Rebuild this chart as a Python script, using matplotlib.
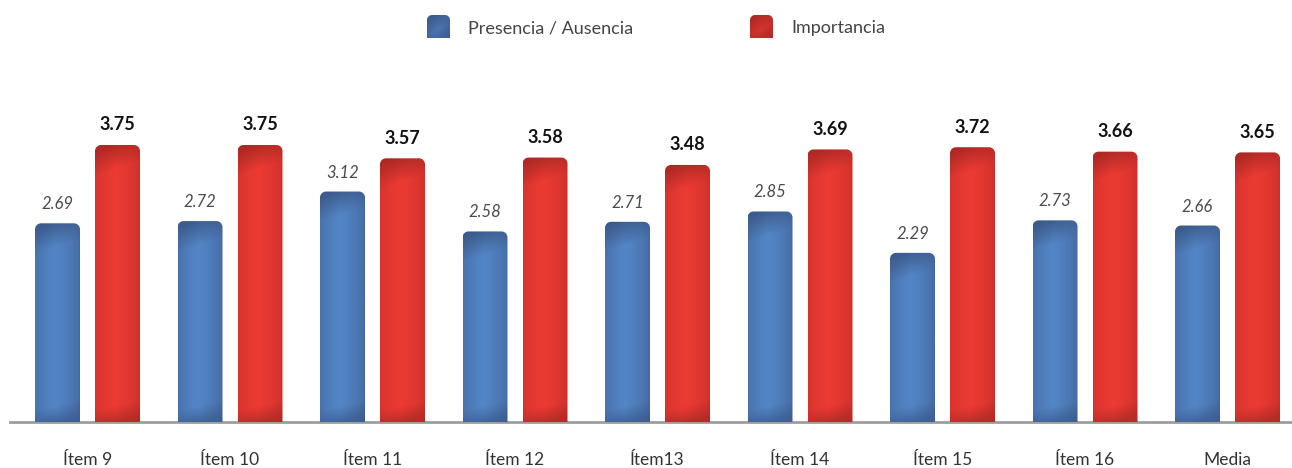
import numpy as np
import matplotlib
matplotlib.use("Agg")
import matplotlib.pyplot as plt
from matplotlib.path import Path
from matplotlib.patches import PathPatch

# ---- data ----
categories = ["Ítem 9", "Ítem 10", "Ítem 11", "Ítem 12", "Ítem13",
              "Ítem 14", "Ítem 15", "Ítem 16", "Media"]
presencia = [2.69, 2.72, 3.12, 2.58, 2.71, 2.85, 2.29, 2.73, 2.66]
importancia = [3.75, 3.75, 3.57, 3.58, 3.48, 3.69, 3.72, 3.66, 3.65]
series_names = ["Presencia / Ausencia", "Importancia"]

W, H = 1292, 468
DPI = 100
plt.rcParams["font.family"] = ["Lato", "DejaVu Sans"]

fig = plt.figure(figsize=(W / DPI, H / DPI), dpi=DPI)

# axes geometry in pixels
ax_left_px, ax_right_px = 10, W
base_px = 422  # baseline, from top
ax = fig.add_axes([ax_left_px / W, (H - base_px) / H,
                   (ax_right_px - ax_left_px) / W, base_px / H])
group_px = 142.5
first_center_px = 87.5
x_lo = (ax_left_px - first_center_px) / group_px
x_hi = (ax_right_px - first_center_px) / group_px
ax.set_xlim(x_lo, x_hi)
px_per_unit = 277 / 3.75
ax.set_ylim(0, base_px / px_per_unit)
ax.axis("off")

px_x = group_px            # pixels per x data unit
px_y = px_per_unit         # pixels per y data unit

BLUE = dict(mid=np.array([0x53, 0x86, 0xc6]) / 255,
            edge=np.array([0x44, 0x68, 0xa0]) / 255,
            dark=np.array([0x3c, 0x5b, 0x8c]) / 255)
RED = dict(mid=np.array([0xec, 0x3b, 0x33]) / 255,
           edge=np.array([0xcc, 0x30, 0x2b]) / 255,
           dark=np.array([0xae, 0x29, 0x24]) / 255)


def gradient(wpx, hpx, pal):
    wpx = max(int(round(wpx)), 2)
    hpx = max(int(round(hpx)), 2)
    xs = np.linspace(0, 1, wpx)[None, :]
    ys = np.arange(hpx)[:, None].astype(float)
    # cylinder-like horizontal shading
    prof = np.clip(1 - np.abs(xs - 0.45) / 0.55, 0, 1) ** 0.6
    img = pal["edge"][None, None, :] + (pal["mid"] - pal["edge"])[None, None, :] * prof[..., None]
    img = np.broadcast_to(img, (hpx, wpx, 3)).copy()
    # darker top cap with diagonal edge
    top = np.clip(1 - (ys + 14 * (xs - 0.3)) / 26, 0, 1)
    # darker bottom with diagonal edge
    fy = hpx - 1 - ys
    bot = np.clip(1 - (fy - 10 * (xs - 0.5)) / 16, 0, 1) * 0.75
    shade = np.maximum(top, bot)[..., None]
    img = img * (1 - shade) + pal["dark"][None, None, :] * shade
    return img


def rounded_top_path(x0, y0, w, h, rx, ry):
    k = 0.5523
    verts = [(x0, y0), (x0 + w, y0), (x0 + w, y0 + h - ry),
             (x0 + w, y0 + h - ry + k * ry), (x0 + w - rx + k * rx, y0 + h), (x0 + w - rx, y0 + h),
             (x0 + rx, y0 + h),
             (x0 + rx - k * rx, y0 + h), (x0, y0 + h - ry + k * ry), (x0, y0 + h - ry),
             (x0, y0)]
    codes = [Path.MOVETO, Path.LINETO, Path.LINETO,
             Path.CURVE4, Path.CURVE4, Path.CURVE4,
             Path.LINETO,
             Path.CURVE4, Path.CURVE4, Path.CURVE4,
             Path.CLOSEPOLY]
    return Path(verts, codes)


def draw_gradient_bar(axis, x0, y0, w, h, pal, sx, sy, radius=6):
    rx, ry = radius / sx, radius / sy
    path = rounded_top_path(x0, y0, w, h, rx, ry)
    patch = PathPatch(path, facecolor="none", edgecolor="none", transform=axis.transData)
    axis.add_patch(patch)
    img = gradient(w * sx, h * sy, pal)
    im = axis.imshow(img, extent=(x0, x0 + w, y0, y0 + h), origin="upper",
                     aspect="auto", interpolation="bilinear", zorder=2)
    im.set_clip_path(patch)


x = np.arange(len(categories))
off = 30 / group_px
bw = 45 / group_px

bars_b = ax.bar(x - off, presencia, bw, color="none")
bars_r = ax.bar(x + off, importancia, bw, color="none")

for rect in bars_b:
    draw_gradient_bar(ax, rect.get_x(), 0, rect.get_width(), rect.get_height(), BLUE, px_x, px_y)
for rect in bars_r:
    draw_gradient_bar(ax, rect.get_x(), 0, rect.get_width(), rect.get_height(), RED, px_x, px_y)

ax.set_xlim(x_lo, x_hi)
ax.set_ylim(0, base_px / px_per_unit)

# value labels
for xi, v in zip(x - off, presencia):
    ax.text(xi, v + 19 / px_y, f"{v:.2f}", ha="center", va="center", fontsize=12,
            fontstyle="italic", fontweight="normal", color="#4a4a4a", zorder=3)
for xi, v in zip(x + off, importancia):
    ax.text(xi, v + 20 / px_y, f"{v:.2f}", ha="center", va="center", fontsize=13,
            fontweight="bold", color="#111111", zorder=3)

# baseline
ax.axhline(0, color="#9e9e9e", lw=2, zorder=1, clip_on=False)

# category labels
for xi, c in zip(x, categories):
    ax.text(xi, -38 / px_y, c, ha="center", va="center", fontsize=12.5,
            fontweight="normal", color="#333333", clip_on=False)

# legend
legend_items = [(427, series_names[0], BLUE), (750, series_names[1], RED)]
for lx, name, pal in legend_items:
    sw = fig.add_axes([lx / W, (H - 38) / H, 23 / W, 23 / H])
    sw.set_xlim(0, 1)
    sw.set_ylim(0, 1)
    sw.axis("off")
    draw_gradient_bar(sw, 0, 0, 1, 1, pal, 23, 23, radius=5)
    sw.set_xlim(0, 1)
    sw.set_ylim(0, 1)
    fig.text((lx + 41) / W, (H - 28) / H, name, ha="left", va="center",
             fontsize=13, fontweight="normal", color="#444444")

fig.savefig("out.png", dpi=DPI)
